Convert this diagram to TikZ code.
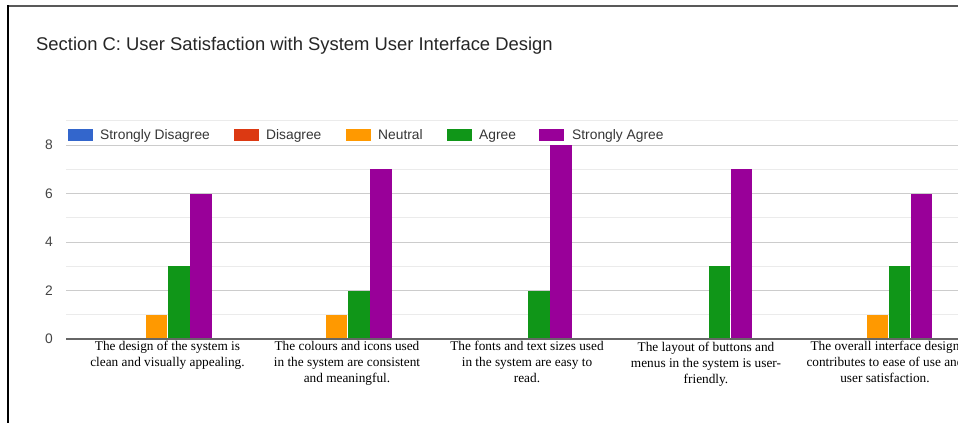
\documentclass[tikz,border=0pt]{standalone}
\usepackage{fontspec}
\setmainfont{Liberation Serif}
\setsansfont{Liberation Sans}
\definecolor{cSD}{HTML}{3366CC}
\definecolor{cD}{HTML}{DC3912}
\definecolor{cN}{HTML}{FF9900}
\definecolor{cA}{HTML}{109618}
\definecolor{cSA}{HTML}{990099}
\definecolor{gmaj}{HTML}{CCCCCC}
\definecolor{gmin}{HTML}{EBEBEB}
\definecolor{axtxt}{HTML}{444444}
\begin{document}
\begin{tikzpicture}[x=1pt,y=-1pt,
  majgrid/.style={draw=gmaj,line width=1pt},
  mingrid/.style={draw=gmin,line width=1pt},
  ylab/.style={anchor=east,inner sep=0pt,text=axtxt,font=\sffamily\fontsize{13.8}{14}\selectfont},
  legtxt/.style={anchor=base west,inner sep=0pt,text=axtxt!80!black,font=\sffamily\fontsize{13.8}{14}\selectfont},
  swatch/.style={minimum width=26pt,minimum height=13pt,inner sep=0pt,draw=white,line width=0.5pt},
  bar/.style={draw=white,line width=0.6pt},
  catlab/.style={anchor=north,inner sep=0pt,align=center,font=\rmfamily\fontsize{13.3}{16}\selectfont}
]
\useasboundingbox (0,0) rectangle (958,423);
\clip (0,0) rectangle (958,423);
\fill[white] (0,0) rectangle (958,423);
% frame
\draw[draw=black!65,line width=2pt] (7,5.5) -- (958,5.5);
\draw[draw=black,line width=2pt] (7.5,5) -- (7.5,423);
% title
\node[anchor=west,inner sep=0pt,text=black!85,font=\sffamily\fontsize{18.4}{20}\selectfont] (title) at (36,46) {Section C: User Satisfaction with System User Interface Design};
% grid (value v at y = 339 - 24.25 v)
\foreach \v in {1,3,5,7,9} {\draw[mingrid] (66,{339-24.25*\v}) -- (958,{339-24.25*\v});}
\foreach \v in {2,4,6,8} {\draw[majgrid] (66,{339-24.25*\v}) -- (958,{339-24.25*\v});}
\foreach \v in {0,2,4,6,8} {\node[ylab] (y\v) at (53,{339-24.25*\v}) {\v};}
% legend
\fill[white] (66,127) rectangle (680,143);
\node[swatch,fill=cSD,anchor=west] (sw1) at (67,134.5) {};
\node[legtxt] (lg1) at (100,139.5) {Strongly Disagree};
\node[swatch,fill=cD,anchor=west] (sw2) at (233,134.5) {};
\node[legtxt] (lg2) at (266,139.5) {Disagree};
\node[swatch,fill=cN,anchor=west] (sw3) at (345,134.5) {};
\node[legtxt] (lg3) at (378,139.5) {Neutral};
\node[swatch,fill=cA,anchor=west] (sw4) at (446,134.5) {};
\node[legtxt] (lg4) at (479,139.5) {Agree};
\node[swatch,fill=cSA,anchor=west] (sw5) at (538,134.5) {};
\node[legtxt] (lg5) at (572,139.5) {Strongly Agree};
% bars
\foreach \g/\n/\a/\s in {0/1/3/6, 1/1/2/7, 2/0/2/8, 3/0/3/7, 4/1/3/6} {
  \pgfmathsetmacro{\xn}{146+180.2*\g}
  \pgfmathsetmacro{\xa}{\xn+22}
  \pgfmathsetmacro{\xs}{\xn+44}
  \ifnum\n>0 \fill[cN] (\xn,339) rectangle ({\xn+21},{339-24.25*\n}); \fi
  \fill[cA] (\xa,339) rectangle ({\xa+21.5},{339-24.25*\a});
  \fill[cSA] (\xs,339) rectangle ({\xs+21.5},{339-24.25*\s});
}
% zero axis
\draw[draw=black!60,line width=1.6pt] (66,339) -- (958,339);
% category labels
\node[catlab] (c1) at (167.5,341) {The design of the system is\\clean and visually appealing.};
\node[catlab] (c2) at (347,341.5) {The colours and icons used\\in the system are consistent\\and meaningful.};
\node[catlab] (c3) at (527,341) {The fonts and text sizes used\\in the system are easy to\\read.};
\node[catlab] (c4) at (706,341.5) {The layout of buttons and\\menus in the system is user-\\friendly.};
\node[catlab] (c5) at (885,341) {The overall interface design\\contributes to ease of use and\\user satisfaction.};
\end{tikzpicture}
\end{document}
